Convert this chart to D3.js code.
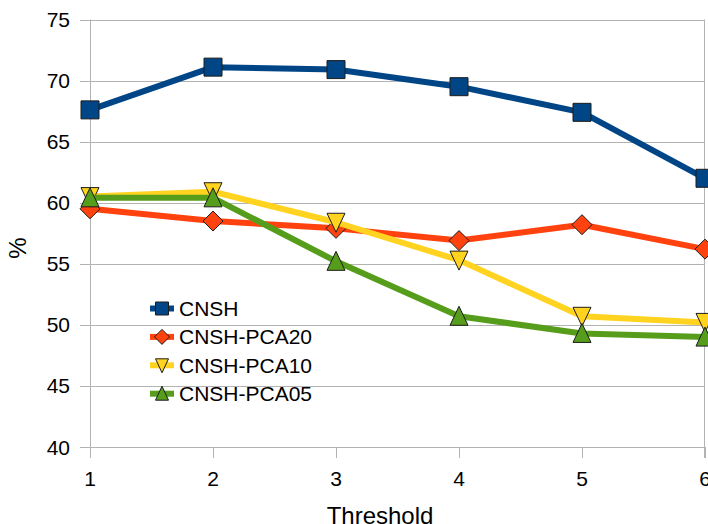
<!DOCTYPE html>
<html>
<head>
<meta charset="utf-8">
<script src="https://cdn.jsdelivr.net/npm/d3@7"></script>
<style>
  body { margin: 0; background: #fff; }
  text { font-family: "Liberation Sans", Arial, sans-serif; fill: #000; }
</style>
</head>
<body>
<div id="chart"></div>
<script>
var thresholds = [1, 2, 3, 4, 5, 6];
var yTicks = [40, 45, 50, 55, 60, 65, 70, 75];
var seriesNames = ["CNSH", "CNSH-PCA20", "CNSH-PCA10", "CNSH-PCA05"];
var cnsh    = [67.6, 71.1, 70.9, 69.5, 67.4, 62.0];
var pca20   = [59.5, 58.5, 57.9, 56.9, 58.2, 56.2];
var pca10   = [60.5, 60.9, 58.4, 55.3, 50.7, 50.2];
var pca05   = [60.4, 60.4, 55.2, 50.7, 49.3, 49.0];

var colors = ["#004586", "#ff420e", "#ffd320", "#579d1c"];
var symbols = [d3.symbolSquare, d3.symbolDiamond, "down", "up"];
var values = [cnsh, pca20, pca10, pca05];

var width = 708, height = 524;
var svg = d3.select("#chart").append("svg")
    .attr("width", width)
    .attr("height", height);

var x = d3.scaleLinear().domain([1, 6]).range([90, 705]);
var y = d3.scaleLinear().domain([40, 75]).range([447, 19.5]);

// horizontal grid lines
svg.append("g")
  .selectAll("line")
  .data(yTicks)
  .join("line")
    .attr("x1", 80).attr("x2", x(6))
    .attr("y1", function (d) { return Math.round(y(d)) + 0.5; })
    .attr("y2", function (d) { return Math.round(y(d)) + 0.5; })
    .attr("stroke", "#b3b3b3")
    .attr("stroke-width", 1);

// left axis and right border
svg.append("line")
  .attr("x1", x(1) + 0.5).attr("x2", x(1) + 0.5)
  .attr("y1", y(75)).attr("y2", 458)
  .attr("stroke", "#b3b3b3");
svg.append("line")
  .attr("x1", x(6) - 0.5).attr("x2", x(6) - 0.5)
  .attr("y1", y(75)).attr("y2", 458)
  .attr("stroke", "#b3b3b3");

// x tick marks
svg.append("g")
  .selectAll("line")
  .data(thresholds)
  .join("line")
    .attr("x1", function (d) { return Math.round(x(d)) + 0.5; })
    .attr("x2", function (d) { return Math.round(x(d)) + 0.5; })
    .attr("y1", y(40)).attr("y2", 458)
    .attr("stroke", "#b3b3b3");

// tick labels
svg.append("g")
  .selectAll("text")
  .data(yTicks)
  .join("text")
    .attr("x", 70)
    .attr("y", function (d) { return y(d); })
    .attr("dy", "0.36em")
    .attr("text-anchor", "end")
    .style("font-size", "21px")
    .text(function (d) { return d; });

svg.append("g")
  .selectAll("text")
  .data(thresholds)
  .join("text")
    .attr("x", function (d) { return x(d); })
    .attr("y", 478.5)
    .attr("dy", "0.36em")
    .attr("text-anchor", "middle")
    .style("font-size", "21px")
    .text(function (d) { return d; });

// axis titles
svg.append("text")
  .attr("x", 380)
  .attr("y", 524)
  .attr("text-anchor", "middle")
  .style("font-size", "24px")
  .text("Threshold");

svg.append("text")
  .attr("transform", "translate(26," + 248 + ") rotate(-90)")
  .attr("text-anchor", "middle")
  .style("font-size", "24px")
  .text("%");

function markerPath(sym, size) {
  if (sym === "up") {
    var h = size;
    return "M0," + (-h / 2 - 1) + "L" + (h / 2) + "," + (h / 2) + "L" + (-h / 2) + "," + (h / 2) + "Z";
  }
  if (sym === "down") {
    var h2 = size;
    return "M0," + (h2 / 2 + 1) + "L" + (h2 / 2) + "," + (-h2 / 2) + "L" + (-h2 / 2) + "," + (-h2 / 2) + "Z";
  }
  if (sym === d3.symbolDiamond) {
    var r = size / 2 + 1;
    return "M0," + (-r) + "L" + r + ",0L0," + r + "L" + (-r) + ",0Z";
  }
  return d3.symbol().type(sym).size(size * size)();
}

var line = d3.line()
  .x(function (d, i) { return x(thresholds[i]); })
  .y(function (d) { return y(d); });

values.forEach(function (vals, s) {
  var g = svg.append("g");
  g.append("path")
    .datum(vals)
    .attr("d", line)
    .attr("fill", "none")
    .attr("stroke", colors[s])
    .attr("stroke-width", 6)
    .attr("stroke-linejoin", "round");
  g.selectAll("path.m")
    .data(vals)
    .join("path")
      .attr("class", "m")
      .attr("transform", function (d, i) { return "translate(" + x(thresholds[i]) + "," + y(d) + ")"; })
      .attr("d", markerPath(symbols[s], 18))
      .attr("fill", colors[s])
      .attr("stroke", "#1c1c1c")
      .attr("stroke-width", 1);
});

// legend
var legend = svg.append("g")
  .selectAll("g")
  .data(seriesNames)
  .join("g")
    .attr("transform", function (d, i) { return "translate(150," + (308.5 + i * 28.4) + ")"; });

legend.append("line")
  .attr("x1", 0).attr("x2", 24)
  .attr("stroke", function (d, i) { return colors[i]; })
  .attr("stroke-width", 6);

legend.append("path")
  .attr("transform", "translate(12,0)")
  .attr("d", function (d, i) { return markerPath(symbols[i], 13); })
  .attr("fill", function (d, i) { return colors[i]; })
  .attr("stroke", "#1c1c1c")
  .attr("stroke-width", 1);

legend.append("text")
  .attr("x", 29)
  .attr("dy", "0.36em")
  .style("font-size", "21px")
  .text(function (d) { return d; });
</script>
</body>
</html>
